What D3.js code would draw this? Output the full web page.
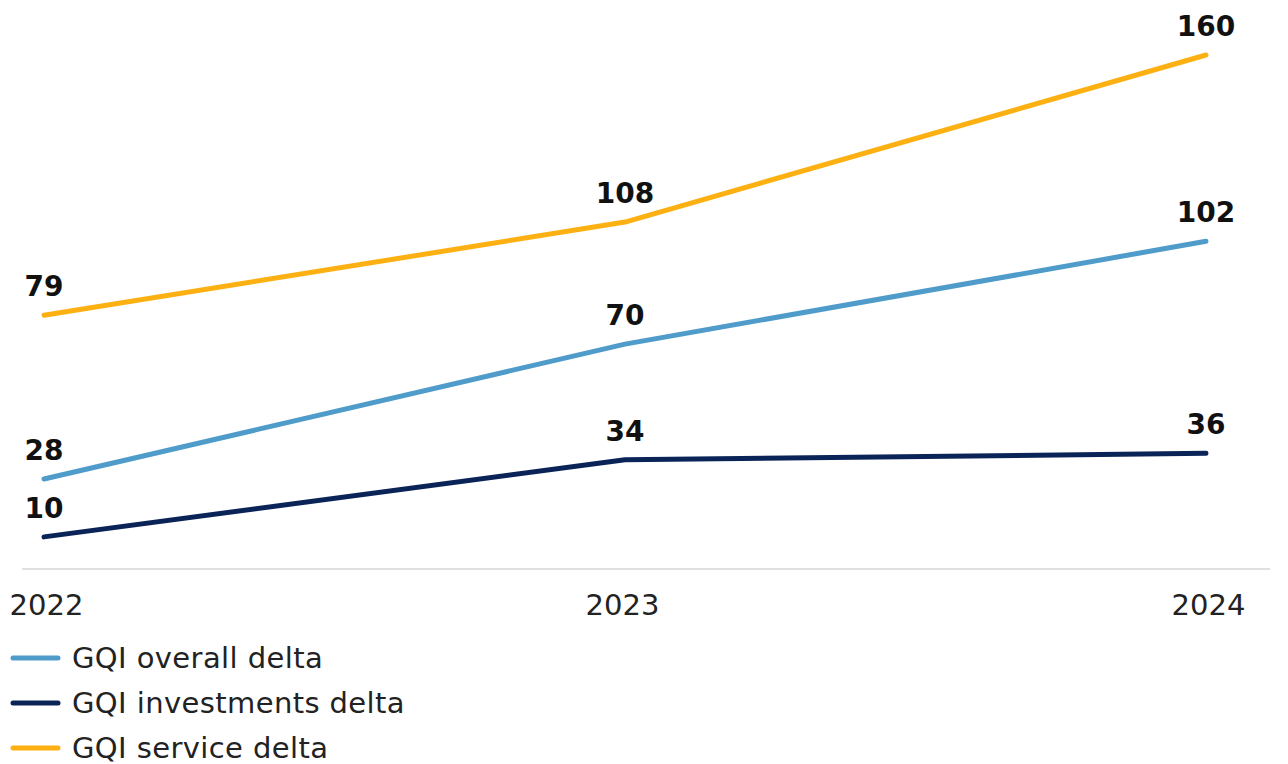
<!DOCTYPE html>
<html>
<head>
<meta charset="utf-8">
<script src="https://cdn.jsdelivr.net/npm/d3@7"></script>
<style>
  html, body { margin: 0; padding: 0; background: #fff; }
  svg { display: block; font-family: "DejaVu Sans", sans-serif; }
</style>
</head>
<body>
<svg id="chart" width="1288" height="764"></svg>
<script>
const years = ["2022", "2023", "2024"];
const seriesNames = ["GQI overall delta", "GQI investments delta", "GQI service delta"];
const overall = [28, 70, 102];
const investments = [10, 34, 36];
const service = [79, 108, 160];
const colors = ["#4F9CCB", "#0B2458", "#FCB012"];

const series = [
  { name: seriesNames[0], values: overall, color: colors[0] },
  { name: seriesNames[1], values: investments, color: colors[1] },
  { name: seriesNames[2], values: service, color: colors[2] }
];

const svg = d3.select("#chart");
const x = d3.scalePoint().domain(years).range([44, 1206]);
const y = d3.scaleLinear().domain([0, 160]).range([569, 55]);

// axis baseline
svg.append("line")
  .attr("x1", 22).attr("x2", 1270)
  .attr("y1", y(0)).attr("y2", y(0))
  .attr("stroke", "#e0e0e0").attr("stroke-width", 2);

// x tick labels
const xAxis = d3.axisBottom(x).tickSize(0).tickPadding(0);
const gx = svg.append("g").attr("transform", `translate(0,${y(0)})`).call(xAxis);
gx.select(".domain").remove();
gx.selectAll("text")
  .attr("y", 46).attr("dy", 0)
  .attr("font-size", 29).attr("fill", "#222")
  .attr("font-family", "'DejaVu Sans', sans-serif");
gx.selectAll(".tick text").attr("dx", (d, i) => i === 2 ? 2 : (i === 1 ? -3 : 2));

const line = d3.line()
  .x((d, i) => x(years[i]))
  .y(d => y(d));

svg.selectAll(".series")
  .data(series)
  .enter().append("path")
  .attr("d", d => line(d.values))
  .attr("fill", "none")
  .attr("stroke", d => d.color)
  .attr("stroke-width", 5)
  .attr("stroke-linecap", "round")
  .attr("stroke-linejoin", "round");

// data labels
series.forEach(s => {
  svg.selectAll(null)
    .data(s.values)
    .enter().append("text")
    .attr("x", (d, i) => x(years[i]))
    .attr("y", d => y(d) - 19)
    .attr("text-anchor", "middle")
    .attr("font-size", 28)
    .attr("font-weight", 700)
    .attr("fill", "#111")
    .text(d => d);
});

// legend
const legend = svg.append("g");
series.forEach((s, i) => {
  const ly = 658 + i * 45;
  legend.append("line")
    .attr("x1", 13).attr("x2", 58)
    .attr("y1", ly).attr("y2", ly)
    .attr("stroke", s.color).attr("stroke-width", 5)
    .attr("stroke-linecap", "round");
  legend.append("text")
    .attr("x", 72).attr("y", ly + 10)
    .attr("font-size", 29)
    .attr("letter-spacing", 0.4)
    .attr("fill", "#222")
    .text(s.name);
});
</script>
</body>
</html>
